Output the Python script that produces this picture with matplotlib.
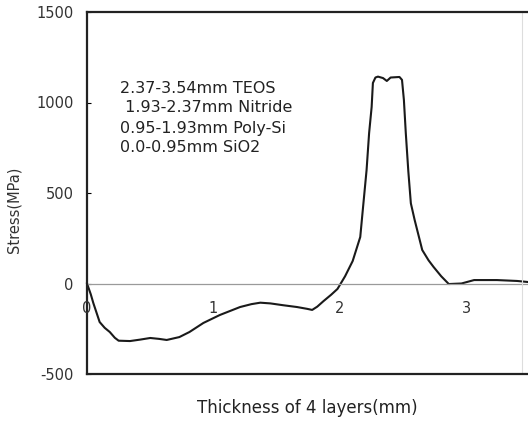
import matplotlib
matplotlib.use("Agg")
import matplotlib.pyplot as plt

plt.rcParams["axes.unicode_minus"] = False

# valores (espessura em mm, tensao em MPa)
espessura = [0.00, 0.03, 0.05, 0.10, 0.14, 0.18, 0.22, 0.25, 0.34, 0.42,
             0.50, 0.57, 0.63, 0.73, 0.81, 0.92, 1.05, 1.21, 1.30, 1.37,
             1.45, 1.55, 1.66, 1.74, 1.78, 1.82, 1.87, 1.93, 1.98, 2.04,
             2.10, 2.16, 2.18, 2.21, 2.23, 2.25, 2.26, 2.28, 2.30, 2.34,
             2.37, 2.40, 2.47, 2.49, 2.505, 2.52, 2.54, 2.56, 2.59, 2.65,
             2.70, 2.74, 2.80, 2.86, 2.96, 3.06, 3.24, 3.40, 3.49]
tensao = [0, -60, -108, -213, -245, -268, -300, -316, -318, -310,
          -301, -306, -312, -296, -268, -218, -174, -130, -114, -106,
          -110, -120, -130, -140, -146, -128, -97, -62, -30, 40,
          124, 257, 406, 627, 831, 975, 1108, 1138, 1143, 1135,
          1119, 1138, 1141, 1125, 1014, 831, 620, 443, 351, 185,
          128, 91, 40, -3, 0, 19, 19, 14, 8]

yticks = [-500, 0, 500, 1000, 1500]
xtick_pos = [0, 1, 2, 3]
xtick_lab = ["0", "1", "2", "3"]
camadas = ["2.37-3.54mm TEOS", " 1.93-2.37mm Nitride",
           "0.95-1.93mm Poly-Si", "0.0-0.95mm SiO2"]
camadas_y = [1080, 970, 859, 749]

fig = plt.figure(figsize=(5.28, 4.22), dpi=100)
ax = fig.add_axes([87 / 528, 48 / 422, 441 / 528, 362 / 422])

ax.plot(espessura, tensao, color="#1a1a1a", lw=1.5, clip_on=False)
ax.axhline(0, color="#9a9a9a", lw=0.9)
ax.axvline(3.44, color="#dddddd", lw=0.8)

ax.set_xlim(0, 3.486)
ax.set_ylim(-500, 1500)
ax.set_xticks([])
ax.set_yticks(yticks)
ax.tick_params(axis="y", direction="in", length=3, pad=9.5,
               labelsize=10.5, labelcolor="#333333")

for s in ["left", "top", "bottom"]:
    ax.spines[s].set_linewidth(1.6)
    ax.spines[s].set_color("#222222")
ax.spines["right"].set_visible(False)

# rotulos do eixo x ficam dentro do grafico, abaixo da linha do zero
for xp, lab in zip(xtick_pos, xtick_lab):
    ax.text(xp, -140, lab, ha="center", va="center", fontsize=10.5,
            color="#333333")

for txt, yy in zip(camadas, camadas_y):
    ax.text(0.26, yy, txt, ha="left", va="center", fontsize=11.5,
            color="#222222")

fig.text(307 / 528, 1 - 408 / 422, "Thickness of 4 layers(mm)",
         ha="center", va="center", fontsize=12, color="#222222")
fig.text(14 / 528, 1 - 210 / 422, "Stress(MPa)", rotation=90,
         ha="center", va="center", fontsize=10.5, color="#333333")

fig.savefig("out.png", dpi=100)
